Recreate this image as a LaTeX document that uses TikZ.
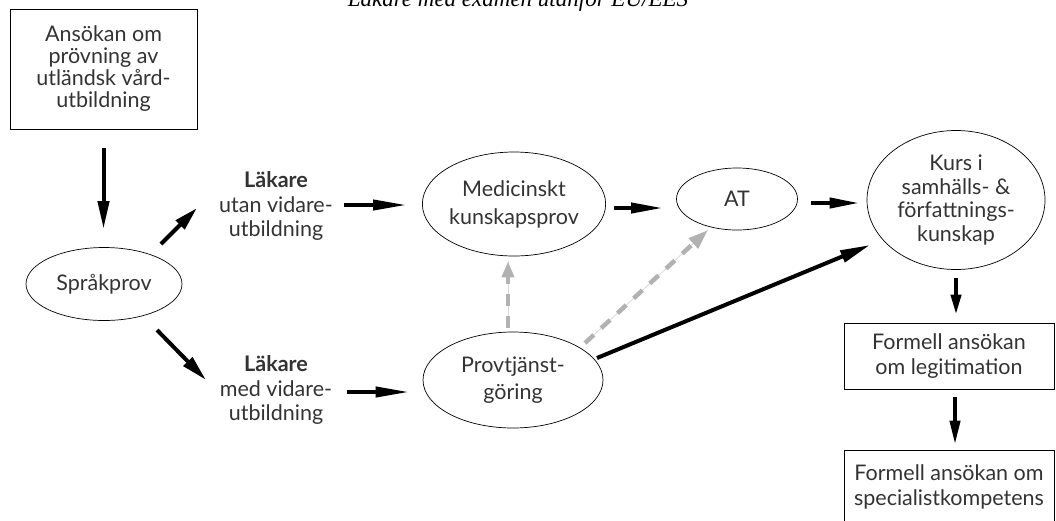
\documentclass[tikz,border=0pt]{standalone}
\usepackage{fontspec}
\setmainfont{Lato}
\newfontfamily\titlefont{Liberation Serif}
\usetikzlibrary{shapes.geometric,arrows.meta,calc}
\tikzset{
  lbl/.style={font=\fontsize{21.5}{24.5}\selectfont, align=center, inner sep=0pt, text=black!80},
  ell/.style={lbl, ellipse, draw, line width=0.7pt},
  boxn/.style={lbl, rectangle, draw, line width=0.7pt},
  arr/.style={line width=4pt, -{Triangle[length=28pt,width=11pt]}},
  garr/.style={preaction={draw, gray!30, line width=0.8pt, solid, -},
    draw=gray!60, line width=4.5pt, dash pattern=on 12pt off 10pt,
    -{Triangle[length=16pt,width=12pt]}},
}
\begin{document}
\begin{tikzpicture}[x=1pt,y=-1pt]
\useasboundingbox (0,0) rectangle (1056,520);
\clip (0,0) rectangle (1056,520);
\node[anchor=base, font=\titlefont\itshape\fontsize{23}{26}\selectfont] (title) at (518,6) {Läkare med examen utanför EU/EES};
\node[boxn, minimum width=187pt, minimum height=120pt, font=\fontsize{21.5}{22}\selectfont] (box1) at (103.5,69) {Ansökan om\\prövning av\\utländsk vård-\\utbildning};
\node[ell, minimum width=156pt, minimum height=73pt] (sprak) at (104,284) {Språkprov};
\node[lbl] (utan) at (276,206) {\textbf{Läkare}\\utan vidare-\\utbildning};
\node[lbl] (medv) at (276,390) {\textbf{Läkare}\\med vidare-\\utbildning};
\node[ell, minimum width=178pt, minimum height=104pt, font=\fontsize{21.5}{28}\selectfont] (med) at (514,204) {Medicinskt\\kunskapsprov};
\node[ell, minimum width=121pt, minimum height=62pt] (at) at (737,199) {AT};
\node[ell, minimum width=178pt, minimum height=139pt, font=\fontsize{21.5}{23.5}\selectfont] (kurs) at (956,200) {Kurs i\\samhälls- \&\\författnings-\\kunskap};
\node[ell, minimum width=180pt, minimum height=96pt, font=\fontsize{21.5}{27}\selectfont] (prov) at (513,380) {Provtjänst-\\göring};
\node[boxn, minimum width=210pt, minimum height=66pt] (legit) at (949,356) {Formell ansökan\\om legitimation};
\node[boxn, minimum width=210pt, minimum height=84pt, text depth=14pt] (spec) at (949,492) {Formell ansökan om\\specialistkompetens};

\draw[arr, shorten <=19pt, shorten >=18pt] (box1.south) -- (box1.south |- sprak.north);
\draw[arr, -{Triangle[length=24pt,width=12pt]}] ($(sprak.center)+(57,-40)$) -- ($(sprak.center)+(93,-76)$);
\draw[arr, -{Triangle[length=26pt,width=12pt]}] ($(sprak.center)+(53,46)$) -- ($(sprak.center)+(102,96)$);
\draw[arr, -{Triangle[length=34pt,width=10pt]}] ($(med.west)+(-78,1)$) -- ($(med.west)+(-15,1)$);
\draw[arr, -{Triangle[length=34pt,width=10pt]}] ($(prov.west)+(-76,12)$) -- ($(prov.west)+(-13,12)$);
\draw[arr, -{Triangle[length=32pt,width=10pt]}] ($(med.east)+(8,4)$) -- ($(at.west)+(-13,9)$);
\draw[arr, -{Triangle[length=30pt,width=10pt]}] ($(at.east)+(13,4)$) -- ($(kurs.west)+(-7,3)$);
\draw[arr, -{Triangle[length=20pt,width=10pt]}, shorten <=8pt, shorten >=8pt] (kurs.south) -- (kurs.south |- legit.north);
\draw[arr, -{Triangle[length=24pt,width=10pt]}] ($(legit.south)+(6,8)$) -- ($(spec.north)+(6,-5)$);
\draw[garr] ($(prov.north)+(-5,-4)$) -- ($(med.south)+(-6,5)$);
\draw[garr, -{Triangle[length=20pt,width=13pt]}] ($(prov.center)+(72,-37)$) -- ($(at.center)+(-29,31)$);
\draw[arr, -{Triangle[length=30pt,width=12pt]}] ($(prov.center)+(84,-22)$) -- ($(kurs.center)+(-86,45)$);
\end{tikzpicture}
\end{document}
